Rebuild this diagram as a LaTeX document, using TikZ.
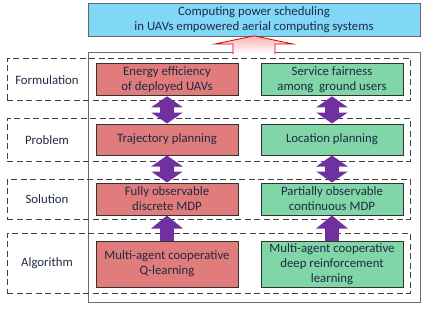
\documentclass[tikz,border=0pt]{standalone}
\usepackage{fontspec}
\setmainfont{Carlito}
\usepackage{tikz}
\usetikzlibrary{arrows.meta,calc}
\definecolor{inkblue}{HTML}{1F2A44}
\definecolor{topcyan}{HTML}{80D8F6}
\definecolor{redfill}{HTML}{E07C7C}
\definecolor{greenfill}{HTML}{80D6A6}
\definecolor{duopurple}{HTML}{7030A0}
\tikzset{
  topbox/.style   = {draw=gray!80!black, fill=topcyan, line width=1pt,
                     minimum width=332pt, minimum height=32pt, align=center,
                     text=inkblue, font=\fontsize{12.8}{15}\selectfont},
  rowframe/.style = {draw=black!75, line width=1pt, dash pattern=on 6pt off 3.5pt,
                     minimum width=403pt, inner sep=0pt},
  rowlabel/.style = {text=inkblue, font=\fontsize{12.8}{15}\selectfont},
  redbox/.style   = {draw=black!80, fill=redfill, line width=1pt, align=center,
                     minimum width=142pt, text=inkblue, font=\fontsize{12.8}{15}\selectfont},
  greenbox/.style = {redbox, fill=greenfill},
  duoar/.style    = {line width=14pt, duopurple,
                     {Triangle[width=31pt,length=11pt]}-{Triangle[width=31pt,length=11pt]}},
  upar/.style     = {line width=14pt, duopurple, -{Triangle[width=31pt,length=13pt]}}
}

\begin{document}
\begin{tikzpicture}[x=1pt,y=-1pt]
  \useasboundingbox (0,0) rectangle (425,308);
  % goal on top
  \node[topbox] (goal) at (254,20) {Computing power scheduling\\in UAVs empowered aerial computing systems};
  % outer frame
  \draw[gray!85!black, line width=1pt] (88,52) rectangle (420,302);
  \coordinate (frametop) at (254,52);
  % dashed rows and their labels
  \node[rowframe, minimum height=42pt] (rowF) at (208.5,79) {};
  \node[rowframe, minimum height=43pt] (rowP) at (208.5,139.5) {};
  \node[rowframe, minimum height=40pt] (rowS) at (208.5,199) {};
  \node[rowframe, minimum height=60pt] (rowA) at (208.5,263) {};
  \node[rowlabel] (labF) at (47,80) {Formulation};
  \node[rowlabel] (labP) at (47,140) {Problem};
  \node[rowlabel] (labS) at (47,199) {Solution};
  \node[rowlabel] (labA) at (47,263) {Algorithm};
  % left column
  \node[redbox, minimum height=31pt] (energy) at (167,79.5) {Energy efficiency\\of deployed UAVs};
  \node[redbox, minimum height=31pt] (traj) at (167,139.5) {Trajectory planning};
  \node[redbox, minimum height=32pt] (fully) at (167,199) {Fully observable\\discrete MDP};
  \node[redbox, minimum height=46pt] (qlearn) at (167,264) {Multi-agent cooperative\\Q-learning};
  % right column
  \node[greenbox, minimum height=31pt] (fair) at (332,79.5) {Service fairness\\among\ \ ground users};
  \node[greenbox, minimum height=31pt] (loc) at (332,139.5) {Location planning};
  \node[greenbox, minimum height=32pt] (part) at (332,199) {Partially observable\\continuous MDP};
  \node[greenbox, minimum height=46pt, inner sep=1pt] (drl) at (332,264) {Multi-agent cooperative\\deep reinforcement\\learning};
  % purple links
  \draw[duoar] (energy.south) -- (traj.north);
  \draw[duoar] (fair.south) -- (loc.north);
  \draw[duoar] (traj.south) -- (fully.north);
  \draw[duoar] (loc.south) -- (part.north);
  \draw[upar] (qlearn.north) -- (fully.south);
  \draw[upar] (drl.north) -- (part.south);
  % hollow red arrow up to the goal
  \draw[red!85!black, line width=0.8pt, top color=red!30, bottom color=white]
    ($(frametop)+(-21,2)$) -- ($(frametop)+(-21,-8)$) -- ($(frametop)+(-39,-8)$)
    -- ($(goal.south)+(0,-1)$) -- ($(frametop)+(39,-8)$) -- ($(frametop)+(21,-8)$)
    -- ($(frametop)+(21,2)$);
\end{tikzpicture}
\end{document}
